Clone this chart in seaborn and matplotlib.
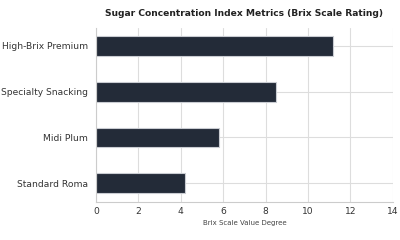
import pandas as pd
import matplotlib
matplotlib.use("Agg")
import matplotlib.pyplot as plt
import seaborn as sns

varieties = ["High-Brix Premium", "Specialty Snacking", "Midi Plum", "Standard Roma"]
brix = [11.2, 8.5, 5.8, 4.2]

df = pd.DataFrame({"variety": varieties, "brix": brix})

sns.set_theme(style="whitegrid")
plt.rcParams['font.family'] = ['DejaVu Sans']

fig, ax = plt.subplots(figsize=(4, 2.4), dpi=100)
sns.barplot(data=df, y="variety", x="brix", color="#1f2a3c", width=0.43,
            edgecolor="#c9ccd2", linewidth=0.8, ax=ax)
ax.set_xlim(0, 14)
ax.set_ylim(3.4, -0.4)
ax.set_xticks(range(0, 15, 2))
ax.set_title("Sugar Concentration Index Metrics (Brix Scale Rating)",
             fontsize=6.6, fontweight="bold", color="#222222", pad=8)
ax.set_xlabel("Brix Scale Value Degree", fontsize=5, color="#444444", labelpad=3)
ax.set_ylabel("")
ax.tick_params(axis="both", labelsize=6.6, colors="#333333", length=0)
ax.tick_params(axis="y", pad=5.5)
ax.tick_params(axis="x", pad=4)
ax.grid(True, color="#dddddd", linewidth=0.8)
sns.despine(ax=ax, top=True, right=True)
for s in ["left", "bottom"]:
    ax.spines[s].set_color("#cccccc")
    ax.spines[s].set_linewidth(0.8)

plt.subplots_adjust(left=0.24, right=0.982, top=0.885, bottom=0.16)
plt.savefig("out.png", dpi=100)
